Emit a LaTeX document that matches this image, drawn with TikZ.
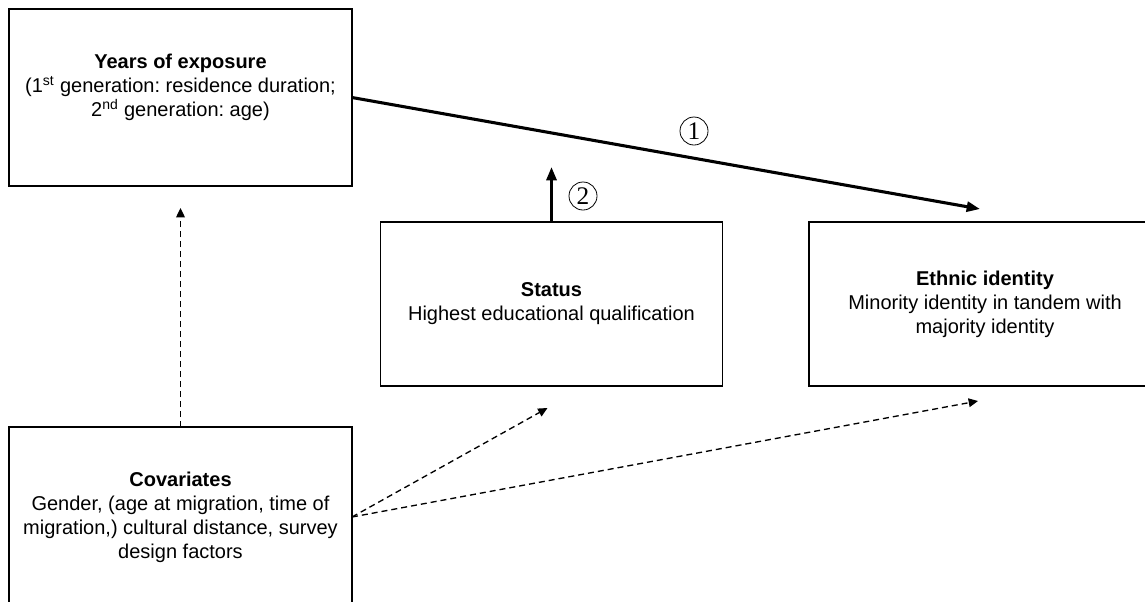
\documentclass[tikz,border=0pt]{standalone}
\usepackage{fontspec}
\setmainfont{Liberation Sans}
\newfontfamily\circfont{Liberation Serif}
\frenchspacing
\usetikzlibrary{arrows.meta,calc}
\tikzset{
	box/.style={draw, line width=0.9pt, inner sep=0pt, outer sep=0pt, align=center, font=\fontsize{15}{18}\selectfont},
	boxtext/.style={align=center, inner sep=0pt, font=\fontsize{15}{18}\selectfont},
	mainarrow/.style={line width=2.3pt, -{Triangle[length=10pt,width=7.5pt]}},
	covarrow/.style={line width=1pt, dash pattern=on 4.5pt off 3pt, -{Triangle[length=7pt,width=6.5pt]}},
	pathnum/.style={circle, draw, line width=0.6pt, minimum size=21pt, inner sep=0pt, font=\circfont\fontsize{19}{19}\selectfont}
}

\begin{document}
\begin{tikzpicture}[x=0.75pt, y=-0.75pt]
	\useasboundingbox (0,0) rectangle (1145,601);
	\clip (0,0) rectangle (1145,601);
	\node[box, minimum width=257.25pt, minimum height=132.75pt] (years) at (180.5,97.5) {};
	\node[boxtext] (yearslabel) at (180.5,87.5) {\textbf{Years of exposure}\\(1\textsuperscript{st} generation: residence duration;\\2\textsuperscript{nd} generation: age)};
	\node[box, minimum width=256.5pt, minimum height=123pt] (status) at (551.5,304) {\textbf{Status}\\Highest educational qualification};
	\node[box, minimum width=264pt, minimum height=123pt] (ethnic) at (985,304) {\textbf{Ethnic identity}\\Minority identity in tandem with\\majority identity};
	\node[box, minimum width=257.25pt, minimum height=135pt] (covar) at (180.5,517) {\textbf{Covariates}\\Gender, (age at migration, time of\\migration,) cultural distance, survey\\design factors};

	\coordinate (ethnicin) at ($(ethnic.north)+(-5,-13)$);
	\coordinate (statusout) at ($(status.north)+(0,-55)$);
	\coordinate (yearsin) at ($(years.south)+(0,22)$);
	\coordinate (statusin) at ($(status.south)+(-4,22)$);
	\coordinate (ethnicfrom) at ($(ethnic.south)+(-7,15)$);

	\draw[mainarrow] (years.east) -- (ethnicin);
	\draw[mainarrow] (status.north) -- (statusout);
	\node[pathnum] (one) at (694,131) {1};
	\node[pathnum] (two) at (583,196) {2};

	\draw[covarrow] (covar.north) -- (yearsin);
	\draw[covarrow] (covar.east) -- (statusin);
	\draw[covarrow] (covar.east) -- (ethnicfrom);
\end{tikzpicture}
\end{document}
